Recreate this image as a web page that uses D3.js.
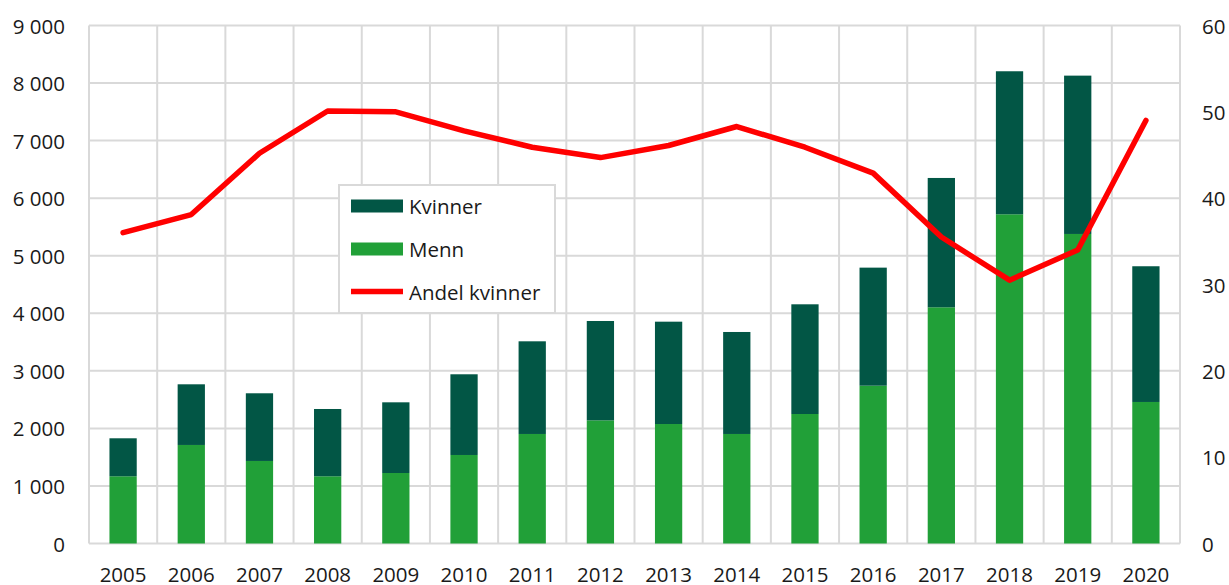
<!DOCTYPE html>
<html>
<head>
<meta charset="utf-8">
<script src="https://cdn.jsdelivr.net/npm/d3@7"></script>
<style>
  html, body { margin: 0; padding: 0; background: #fff; }
  svg { display: block; font-family: "Open Sans", "Noto Sans", sans-serif; }
</style>
</head>
<body>
<svg id="chart" width="1229" height="585"></svg>
<script>
// Years on the category axis
const years = ["2005","2006","2007","2008","2009","2010","2011","2012","2013","2014","2015","2016","2017","2018","2019","2020"];
// Number of men and women per year (stacked bars)
const menn    = [1168, 1712, 1434, 1168, 1225, 1538, 1903, 2140, 2076, 1903, 2250, 2742, 4104, 5720, 5378, 2459];
const kvinner = [ 660, 1054, 1176, 1169, 1228, 1402, 1610, 1726, 1778, 1772, 1906, 2051, 2247, 2485, 2751, 2358];
// Share of women, per cent (right axis)
const andelKvinner = [36.0, 38.1, 45.2, 50.1, 50.0, 47.8, 45.9, 44.7, 46.1, 48.3, 45.9, 42.9, 35.5, 30.5, 34.0, 49.0];
// Axis ticks
const leftTicks  = [0, 1000, 2000, 3000, 4000, 5000, 6000, 7000, 8000, 9000];
const rightTicks = [0, 10, 20, 30, 40, 50, 60];
const seriesNames = ["Kvinner", "Menn", "Andel kvinner"];

const colors = { kvinner: "#025645", menn: "#21a038", andel: "#ff0000", grid: "#d9d9d9", text: "#1a1a1a" };
const fontSize = 20.5;

const svg = d3.select("#chart");
const plot = { left: 89, right: 1180, top: 25.5, bottom: 543.5 };

const x = d3.scaleBand().domain(years).range([plot.left, plot.right]).paddingInner(0.6).paddingOuter(0.3);
const y = d3.scaleLinear().domain([0, 9000]).range([plot.bottom, plot.top]);
const y2 = d3.scaleLinear().domain([0, 60]).range([plot.bottom, plot.top]);

const nb = d3.formatLocale({ decimal: ",", thousands: "\u00a0", grouping: [3], currency: ["", " kr"] });
const fmt = nb.format(",d");

// Grid: horizontal lines at left-axis ticks, vertical lines between categories
const grid = svg.append("g");
grid.selectAll("line.h").data(leftTicks).join("line")
  .attr("class", "h")
  .attr("x1", plot.left).attr("x2", plot.right)
  .attr("y1", d => y(d)).attr("y2", d => y(d))
  .attr("stroke", colors.grid).attr("stroke-width", 2);
const step = x.step();
const edges = years.map(yr => x(yr) - step * 0.3).concat([x(years[years.length - 1]) - step * 0.3 + step]);
grid.selectAll("line.v").data(edges).join("line")
  .attr("class", "v")
  .attr("x1", d => d).attr("x2", d => d)
  .attr("y1", plot.top).attr("y2", plot.bottom)
  .attr("stroke", colors.grid).attr("stroke-width", 2);

// Stacked bars
const table = years.map((yr, i) => ({ year: yr, Menn: menn[i], Kvinner: kvinner[i] }));
const stack = d3.stack().keys(["Menn", "Kvinner"])(table);
const barColor = { Menn: colors.menn, Kvinner: colors.kvinner };
svg.append("g").selectAll("g").data(stack).join("g")
  .attr("fill", s => barColor[s.key])
  .selectAll("rect").data(s => s).join("rect")
  .attr("x", d => x(d.data.year))
  .attr("width", x.bandwidth())
  .attr("y", d => y(d[1]))
  .attr("height", d => y(d[0]) - y(d[1]));

// Share line
const line = d3.line()
  .x((d, i) => x(years[i]) + x.bandwidth() / 2)
  .y(d => y2(d));
svg.append("path").datum(andelKvinner)
  .attr("d", line)
  .attr("fill", "none")
  .attr("stroke", colors.andel)
  .attr("stroke-width", 5.5)
  .attr("stroke-linejoin", "round")
  .attr("stroke-linecap", "round");

// Axis labels
const txt = g => g.attr("font-size", fontSize).attr("fill", colors.text);
svg.append("g").call(txt).selectAll("text").data(leftTicks).join("text")
  .attr("x", 65).attr("y", d => y(d))
  .attr("text-anchor", "end").attr("dominant-baseline", "central")
  .text(d => fmt(d));
svg.append("g").call(txt).selectAll("text").data(rightTicks).join("text")
  .attr("x", 1202).attr("y", d => y2(d))
  .attr("text-anchor", "start").attr("dominant-baseline", "central")
  .text(d => d);
svg.append("g").call(txt).selectAll("text").data(years).join("text")
  .attr("x", d => x(d) + x.bandwidth() / 2).attr("y", 582)
  .attr("text-anchor", "middle")
  .text(d => d);

// Legend
const lg = svg.append("g");
lg.append("rect").attr("x", 339).attr("y", 185).attr("width", 216).attr("height", 128)
  .attr("fill", "#fff").attr("stroke", colors.grid).attr("stroke-width", 2);
const items = [
  { name: seriesNames[0], type: "rect", color: colors.kvinner, cy: 206 },
  { name: seriesNames[1], type: "rect", color: colors.menn, cy: 249 },
  { name: seriesNames[2], type: "line", color: colors.andel, cy: 291.5 }
];
items.forEach(it => {
  if (it.type === "rect") {
    lg.append("rect").attr("x", 351).attr("y", it.cy - 6.5).attr("width", 52).attr("height", 13).attr("fill", it.color);
  } else {
    lg.append("line").attr("x1", 351).attr("x2", 403).attr("y1", it.cy).attr("y2", it.cy)
      .attr("stroke", it.color).attr("stroke-width", 5.5);
  }
  lg.append("text").attr("x", 409).attr("y", it.cy)
    .attr("dominant-baseline", "central").attr("font-size", fontSize).attr("fill", colors.text)
    .text(it.name);
});
</script>
</body>
</html>
